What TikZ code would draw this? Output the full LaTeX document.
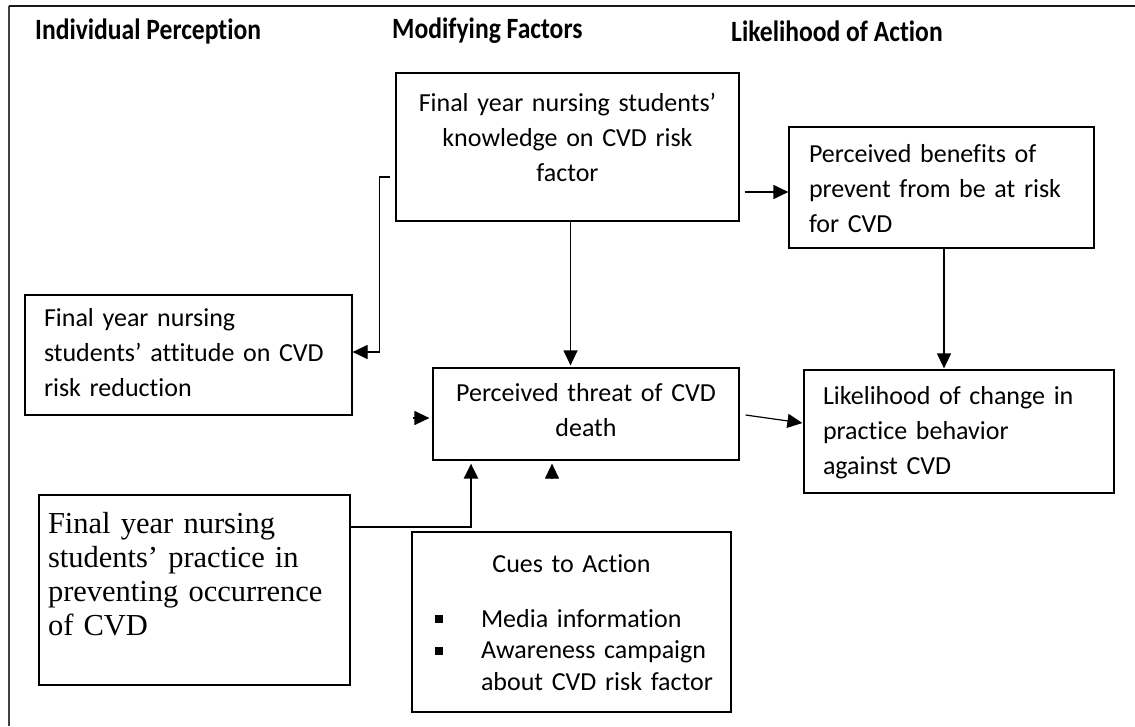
\documentclass[tikz,border=0pt]{standalone}
\usepackage{fontspec}
\setmainfont{Carlito}[Ligatures={NoCommon}]
\newfontfamily\serifx{Liberation Serif}
\usetikzlibrary{arrows.meta,calc}
\newcommand{\tp}[1]{\rule{0pt}{#1pt}}
\newcommand{\bt}[1]{\rule[-#1pt]{0pt}{#1pt}}
\newcommand{\sq}{\raisebox{4pt}{\rule{8pt}{8pt}}}
\begin{document}
\begin{tikzpicture}[x=1pt,y=-1pt,
  box/.style={draw=black, line width=1.2pt, rectangle, inner sep=0pt,
    font=\fontsize{26}{35}\selectfont},
  head/.style={font=\fontsize{25.6}{30}\selectfont\bfseries, anchor=west, inner sep=0pt, yscale=1.15},
  arr/.style={line width=1.2pt, -{Triangle[length=15pt,width=14pt]}},
  thickarr/.style={line width=2.4pt, -{Triangle[length=15pt,width=14pt]}},
  frame/.style={line width=2pt}
]
\fill[white] (0,0) rectangle (1135,726);
\useasboundingbox (0,0) rectangle (1135,726);
\draw[frame, draw=black!75] (9,726) -- (9,6);
\draw[frame, draw=black!90] (9,6) -- (1135,6);

% headers
\node[head] (h1) at (35,31) {Individual Perception};
\node[head] (h2) at (392,31) {Modifying Factors};
\node[head] (h3) at (731,31) {Likelihood of Action};

% boxes
\node[box, minimum width=343, minimum height=148, text width=303, align=center]
  (kn) at (567.5,147) {\tp{24}Final year nursing students’\\knowledge on CVD risk\\factor\bt{26}};
\node[box, minimum width=305, minimum height=121, text width=265, align=left]
  (ben) at (941.5,187.5) {\tp{24}Perceived benefits of\\prevent from be at risk\\for CVD\bt{4}};
\node[box, minimum width=327, minimum height=120, text width=289, align=left]
  (att) at (188.5,355) {\tp{24}Final year nursing\\students’ attitude on CVD\\risk reduction\bt{12}};
\node[box, minimum width=306, minimum height=92, text width=286, align=center]
  (thr) at (586,414) {\tp{24}Perceived threat of CVD\\death\bt{15}};
\node[box, minimum width=310, minimum height=123, text width=272, align=left]
  (lik) at (959,431.5) {\tp{24}Likelihood of change in\\practice behavior\\against CVD\bt{8}};
\node[box, line width=2pt, minimum width=311, minimum height=190, text width=293, align=left,
  font=\serifx\fontsize{30.5}{34}\selectfont]
  (pra) at (194.5,590) {\tp{26}Final year nursing\\students’ practice in\\preventing occurrence\\of CVD\bt{36.5}};
\node[box, minimum width=319, minimum height=180, text width=299, align=left,
  font=\fontsize{26}{31.5}\selectfont]
  (cues) at (571.5,622) {{\centering\tp{24}Cues to Action\par}\vspace{23.5pt}%
  {\noindent\mbox{\hspace*{12.5pt}\makebox[46.5pt][l]{\sq}Media information}\par}%
  {\noindent\mbox{\hspace*{12.5pt}\makebox[46.5pt][l]{\sq}Awareness campaign}\par}%
  {\noindent\mbox{\hspace*{59pt}about CVD risk factor}\bt{6}\par}};

% connectors
\draw[arr] ($(kn.west)+(-5,30)$) -- ++(-11,0) |- ($(att.east)+(0,-3)$);
\coordinate (k1) at ($(kn.south)+(3,0)$);
\draw[arr] (k1) -- ($(k1 |- thr.north)+(0,-2)$);
\coordinate (k2) at ($(kn.east)+(5,45)$);
\draw[arr] (k2) -- (k2 -| ben.west);
\coordinate (b1) at ($(ben.south)+(2.5,0)$);
\draw[arr] (b1) -- ($(b1 |- lik.north)+(0,-1)$);
\draw[arr] ($(thr.east)+(6,1)$) -- ($(lik.west)+(-1,-8.5)$);
\coordinate (p1) at ($(pra.east)+(0,-63)$);
\draw[thickarr] (p1) -| ($(thr.south)+(-115,3)$);

% free arrowheads
\coordinate (f1) at ($(thr.west)+(-19,4)$);
\draw[arr] (f1) -- ++(16,0);
\coordinate (f2) at ($(thr.south)+(-34,18)$);
\draw[arr] (f2) -- ++(0,-15);
\end{tikzpicture}
\end{document}
